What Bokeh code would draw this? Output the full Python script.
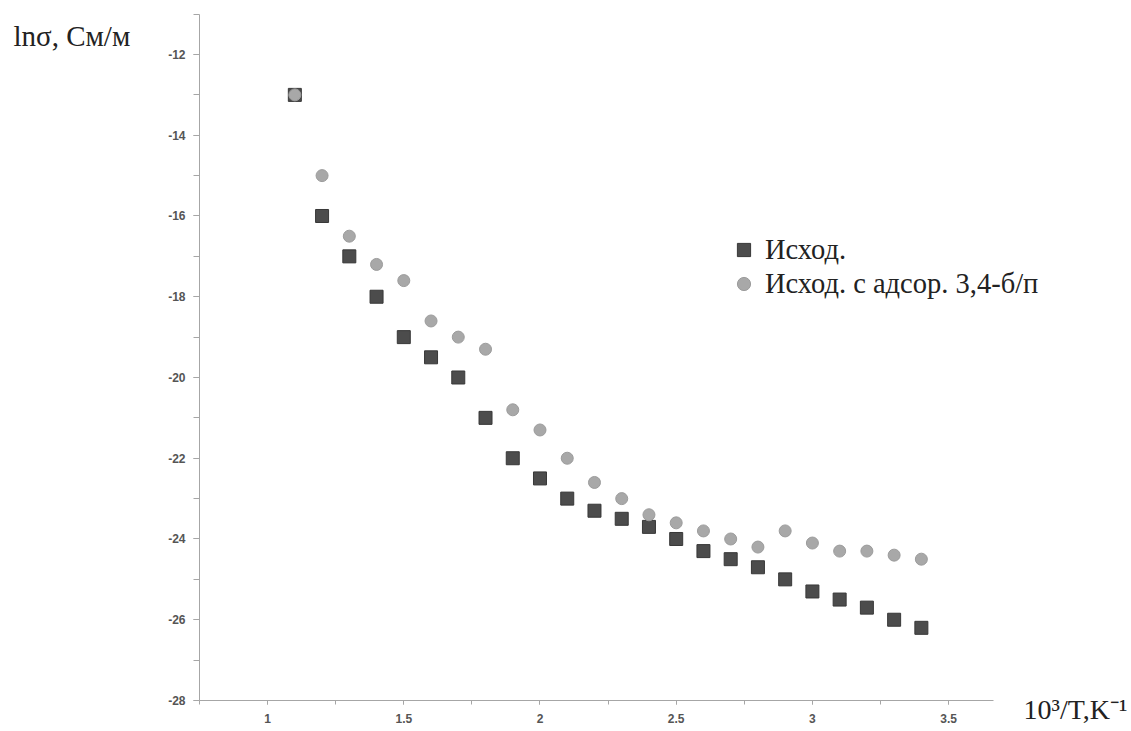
from bokeh.plotting import figure
from bokeh.models import (ColumnDataSource, Range1d, SingleIntervalTicker, Label,
                          Legend, LegendItem, PrintfTickFormatter)
from bokeh.embed import file_html
from bokeh.resources import INLINE

# ---- data ----
x_vals = [1.1, 1.2, 1.3, 1.4, 1.5, 1.6, 1.7, 1.8, 1.9, 2.0, 2.1, 2.2,
          2.3, 2.4, 2.5, 2.6, 2.7, 2.8, 2.9, 3.0, 3.1, 3.2, 3.3, 3.4]
ishod = [-13.0, -16.0, -17.0, -18.0, -19.0, -19.5, -20.0, -21.0, -22.0, -22.5, -23.0, -23.3,
         -23.5, -23.7, -24.0, -24.3, -24.5, -24.7, -25.0, -25.3, -25.5, -25.7, -26.0, -26.2]
ishod_ads = [-13.0, -15.0, -16.5, -17.2, -17.6, -18.6, -19.0, -19.3, -20.8, -21.3, -22.0, -22.6,
             -23.0, -23.4, -23.6, -23.8, -24.0, -24.2, -23.8, -24.1, -24.3, -24.3, -24.4, -24.5]
series_names = ["Исход.", "Исход. с адсор. 3,4-б/п"]
y_title = "lnσ, См/м"
x_title = "10³/T,K⁻¹"
x_axis_bounds = (0.75, 3.663)
y_axis_bounds = (-28, -11)

src = ColumnDataSource(dict(x=x_vals, a=ishod, b=ishod_ads))

p = figure(width=1131, height=731, output_backend="svg", toolbar_location=None,
           x_range=Range1d(0.0195, 4.1714), y_range=Range1d(-28.768, -10.6625),
           min_border=0)
p.outline_line_color = None
p.grid.visible = False
p.background_fill_color = "white"

axis_col = "#a6a6a6"
for ax in (p.xaxis[0], p.yaxis[0]):
    ax.axis_line_color = axis_col
    ax.major_tick_line_color = axis_col
    ax.minor_tick_line_color = axis_col
    ax.major_tick_in = 0
    ax.minor_tick_in = 0
    ax.major_label_text_font = "Liberation Sans"
    ax.major_label_text_font_size = "12px"
    ax.major_label_text_font_style = "bold"
    ax.major_label_text_color = "#555555"

xa = p.xaxis[0]
xa.fixed_location = y_axis_bounds[0]
xa.bounds = x_axis_bounds
xa.ticker = SingleIntervalTicker(interval=0.5, num_minor_ticks=2)
xa.major_tick_out = 4
xa.minor_tick_out = 4
xa.major_label_standoff = 10

ya = p.yaxis[0]
ya.fixed_location = x_axis_bounds[0]
ya.bounds = y_axis_bounds
ya.ticker = SingleIntervalTicker(interval=2, num_minor_ticks=2)
ya.formatter = PrintfTickFormatter(format="%d")
ya.major_tick_out = 6
ya.minor_tick_out = 6
ya.major_label_standoff = 8

r_sq = p.scatter("x", "a", source=src, marker="square", size=13,
                 fill_color="#4c4c4c", line_color="#383838", line_width=1)
r_ci = p.scatter("x", "b", source=src, marker="circle", size=12,
                 fill_color="#a8a8a8", line_color="#9c9c9c", line_width=1)

legend = Legend(items=[LegendItem(label=series_names[0], renderers=[r_sq]),
                       LegendItem(label=series_names[1], renderers=[r_ci])],
                location=(727, 431), orientation="vertical",
                glyph_width=33, glyph_height=33, label_height=33, spacing=1,
                label_standoff=5, padding=0, margin=0,
                border_line_color=None, background_fill_alpha=0,
                label_text_font="Liberation Serif", label_text_font_size="28.5px",
                label_text_color="#222222")
p.add_layout(legend, "center")

p.add_layout(Label(x=0.067, y=-11.554, text=y_title, text_font="Liberation Serif",
                   text_font_size="29px", text_color="#222222",
                   text_baseline="alphabetic", text_align="left"))
p.add_layout(Label(x=3.775, y=-28.223, text=x_title, text_font="Liberation Serif",
                   text_font_size="28px", text_color="#222222",
                   text_baseline="alphabetic", text_align="left"))

open("out.html", "w").write(file_html(p, INLINE))
